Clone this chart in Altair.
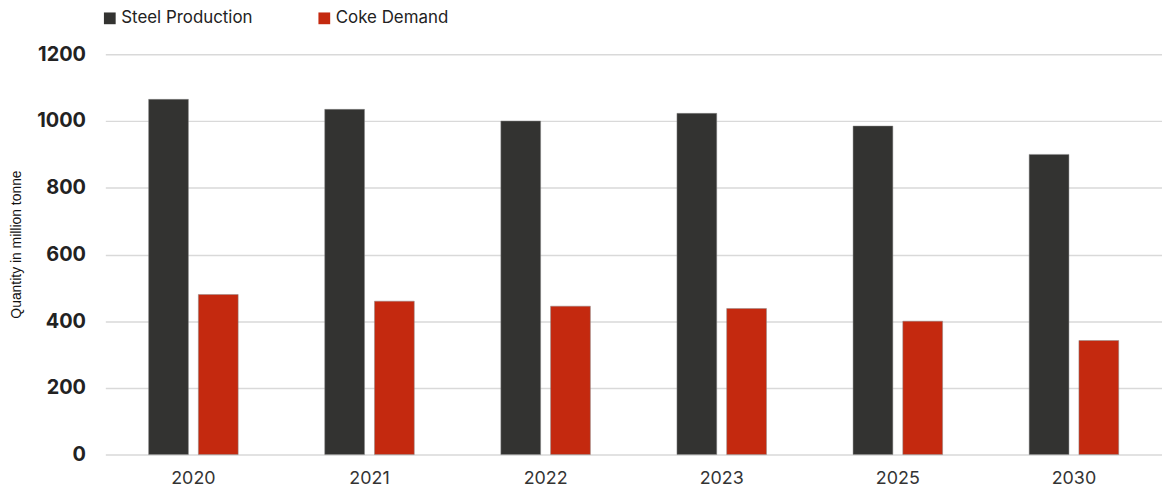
import altair as alt
import pandas as pd

years = ["2020", "2021", "2022", "2023", "2025", "2030"]
steel = [1065, 1035, 1000, 1023, 985, 900]
coke = [480, 460, 445, 438, 400, 342]
series = ["Steel Production", "Coke Demand"]
colors = ["#333331", "#C4290F"]

rows = []
for y, s, c in zip(years, steel, coke):
    rows.append({"year": y, "series": series[0], "value": s})
    rows.append({"year": y, "series": series[1], "value": c})
df = pd.DataFrame(rows)

FONT = "Inter"
TFONT = "Liberation Sans"

chart = alt.Chart(df).mark_bar(stroke="#8a8a8a", strokeWidth=0.6, strokeOpacity=0.8).encode(
    x=alt.X("year:N", sort=years, title=None,
            scale=alt.Scale(paddingInner=0.4915, paddingOuter=0.2458),
            axis=alt.Axis(labelAngle=0, labelFontSize=18, labelColor="#333333",
                          labelFont=FONT, ticks=False, domain=False, labelPadding=15)),
    xOffset=alt.XOffset("series:N", sort=series, scale=alt.Scale(paddingInner=0.2, paddingOuter=0)),
    y=alt.Y("value:Q", title="Quantity in million tonne",
            scale=alt.Scale(domain=[0, 1200], nice=False),
            axis=alt.Axis(values=[0, 200, 400, 600, 800, 1000, 1200], format="d",
                          labelFontSize=20,
                          labelFontWeight="bold", labelColor="#222222", labelFont=FONT,
                          labelPadding=20, ticks=False, domain=False,
                          gridColor="#d9d9d9", gridWidth=1.5,
                          titleFont=TFONT, titleFontSize=14, titleFontWeight="normal",
                          titleColor="#111111", titlePadding=0, titleX=-82, titleY=191)),
    color=alt.Color("series:N", sort=series,
                    scale=alt.Scale(domain=series, range=colors),
                    legend=alt.Legend(title=None, orient="none", direction="horizontal",
                                      legendX=-4, legendY=-45, symbolType="square",
                                      symbolSize=140, symbolStrokeWidth=0,
                                      labelFont=FONT, labelFontSize=17, labelColor="#222222",
                                      columnPadding=63, labelOffset=3)),
).properties(
    width=1064, height=403,
    padding={"left": 98, "top": 45, "right": 0, "bottom": 31},
    autosize=alt.AutoSizeParams(type="none"),
).configure_view(stroke=None)

chart.save("out.html", embed_options={"renderer": "svg", "actions": False})
